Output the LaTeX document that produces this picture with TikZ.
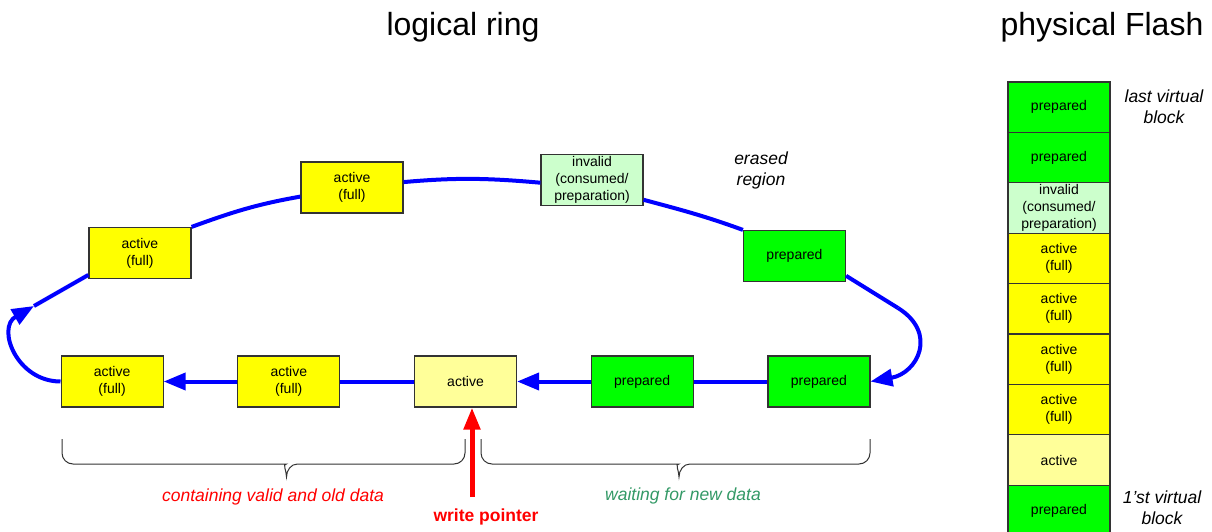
\documentclass[tikz,border=0pt]{standalone}
\usepackage{fontspec}
\setmainfont{Liberation Sans}
\usetikzlibrary{positioning,arrows.meta}

\definecolor{blkyellow}{HTML}{FFFF00}
\definecolor{blklight}{HTML}{FFFF99}
\definecolor{blkgreen}{HTML}{00FF00}
\definecolor{blkinval}{HTML}{CCFFCC}
\definecolor{waitgreen}{HTML}{339966}

\begin{document}
\begin{tikzpicture}[
    x=1pt, y=1pt,
    block/.style={rectangle, draw=black!80, line width=1.2pt, minimum width=\blockW,
                  minimum height=\blockH, inner sep=0pt, align=center,
                  font=\fontsize{14}{17}\selectfont},
    blkfull/.style={block, fill=blkyellow},
    blkactive/.style={block, fill=blklight},
    blkprep/.style={block, fill=blkgreen},
    blkinval/.style={block, fill=blkinval},
    ring/.style={draw=blue, line width=4pt},
    ringarrow/.style={ring, -{Triangle[length=22pt,width=17pt]}},
    pointer/.style={draw=red, line width=5pt, -{Triangle[length=22pt,width=16pt]}},
    groupbrace/.style={draw=black!80, line width=1pt},
    note/.style={font=\fontsize{17.5}{21}\selectfont\itshape, align=center},
    title/.style={font=\fontsize{32}{38}\selectfont}
]

  % Define variables for better adjustability
  \def\blockW{102pt}      % Width of a block
  \def\blockH{51pt}       % Height of a block
  \def\blockSep{73.5pt}   % Gap between blocks in the bottom row
  \def\flashH{50.4}       % Height of a flash row
  \def\curl{11pt}         % Radius of the brace corners

  \useasboundingbox (0,0) rectangle (1212,531);
  \clip (0,0) rectangle (1212,531);

  % Titles
  \node[title] (ringTitle) at (463,503.5) {logical ring};
  \node[title] (flashTitle) at (1102,503.5) {physical Flash};

  % Bottom row of the ring (write pointer in the middle)
  \node[blkactive] (B3) at (465.5,149.5) {active};
  \node[blkfull, left=\blockSep of B3] (B2) {active\\(full)};
  \node[blkfull, left=\blockSep of B2] (B1) {active\\(full)};
  \node[blkprep, right=\blockSep of B3] (B4) {prepared};
  \node[blkprep, right=\blockSep of B4] (B5) {prepared};

  % Upper part of the ring
  \node[blkfull] (U1) at (140,278) {active\\(full)};
  \node[blkfull] (U2) at (352,343.5) {active\\(full)};
  \node[blkinval] (U3) at (592,351) {invalid\\(consumed/\\preparation)};
  \node[blkprep] (U4) at (794.5,275) {prepared};
  \node[note] (erased) at (761,361) {erased\\region};

  % Connect the ring
  \draw[ring] (B5.west) -- (B4.east);
  \draw[ringarrow] (B4.west) -- (B3.east);
  \draw[ring] (B3.west) -- (B2.east);
  \draw[ringarrow] (B2.west) -- (B1.east);
  \coordinate (leftTip) at (34,225);
  \draw[ringarrow] (B1.west) to[out=180, in=210, looseness=1.4] (leftTip);
  \draw[ring] (leftTip) -- (U1.203);
  \draw[ring] (U1.north east) to[out=20, in=190] (U2.190);
  \draw[ring] (U2.6) to[out=5, in=175] (U3.183);
  \draw[ring] (U3.339) to[out=-15, in=160] (U4.north west);
  \coordinate (rightTurn) at (898,223);
  \draw[ring] (U4.339) -- (rightTurn);
  \draw[ringarrow] (rightTurn) to[out=-32, in=10, looseness=1.55] (B5.east);

  % Write pointer
  \coordinate (wpStart) at (472,34);
  \draw[pointer] (wpStart) -- (wpStart |- B3.south);
  \node[font=\fontsize{17.5}{21}\selectfont\bfseries, text=red] (wp) at (486,14) {write pointer};

  % Braces below the bottom row
  \coordinate (oldLeft) at (62,92);
  \coordinate (oldTip) at (286.5,54);
  \coordinate (oldRight) at (465,92);
  \coordinate (newLeft) at (481,92);
  \coordinate (newTip) at (679,54);
  \coordinate (newRight) at (870,92);
  \draw[groupbrace] (oldLeft) [rounded corners=\curl] |- ([xshift=-11pt,yshift=13pt]oldTip)
    [sharp corners] to[out=0, in=90] (oldTip) to[out=90, in=180] ([xshift=11pt,yshift=13pt]oldTip)
    [rounded corners=\curl] -| (oldRight);
  \draw[groupbrace] (newLeft) [rounded corners=\curl] |- ([xshift=-11pt,yshift=13pt]newTip)
    [sharp corners] to[out=0, in=90] (newTip) to[out=90, in=180] ([xshift=11pt,yshift=13pt]newTip)
    [rounded corners=\curl] -| (newRight);
  \node[note, text=red] (oldData) at (273,34) {containing valid and old data};
  \node[note, text=waitgreen] (newData) at (683,35) {waiting for new data};

  % Physical flash column, top to bottom
  \foreach \sty/\txt [count=\i from 0] in {
      blkprep/prepared, blkprep/prepared,
      blkinval/{invalid\\(consumed/\\preparation)},
      blkfull/{active\\(full)}, blkfull/{active\\(full)},
      blkfull/{active\\(full)}, blkfull/{active\\(full)},
      blkactive/active, blkprep/prepared}
    \node[\sty, minimum height=\flashH] (F\i) at (1059,{423.8-\flashH*\i}) {\txt};

  \node[note] (lastBlock) at (1164,424) {last virtual\\block};
  \node[note] (firstBlock) at (1162,23.5) {1'st virtual\\block};

\end{tikzpicture}
\end{document}
